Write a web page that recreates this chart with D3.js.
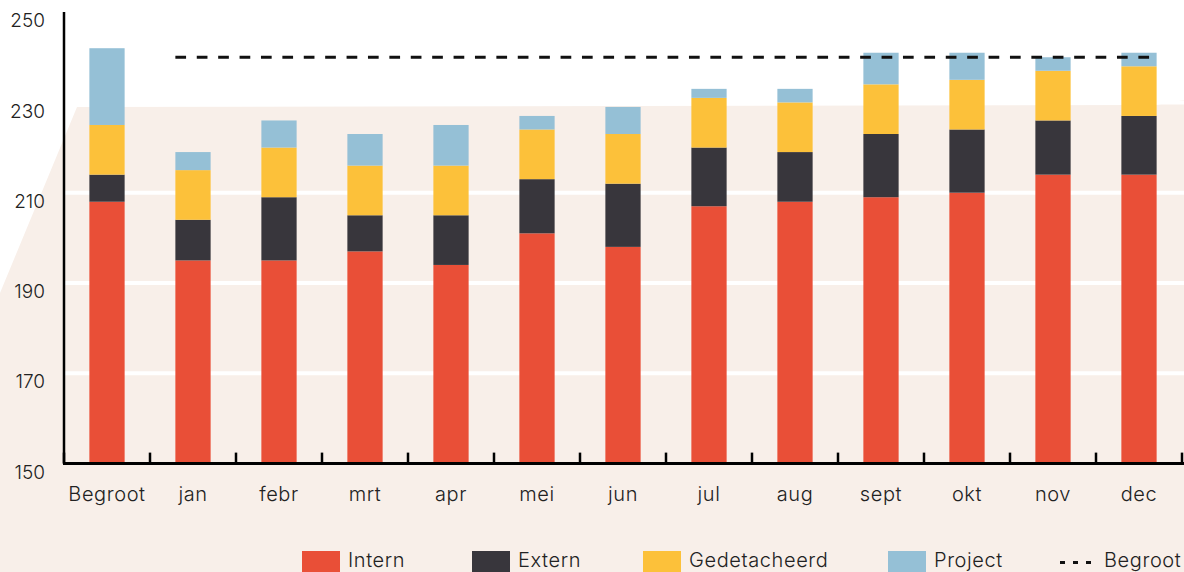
<!DOCTYPE html>
<html>
<head>
<meta charset="utf-8">
<script src="https://cdn.jsdelivr.net/npm/d3@7"></script>
<style>
  body { margin: 0; background: #ffffff; }
  svg { display: block; }
  text { font-family: Inter, "Liberation Sans", sans-serif; fill: #2b2b2b; font-weight: 400; }
  .lbl { font-size: 20px; letter-spacing: 0.6px; font-weight: 300; fill: #222; }
</style>
</head>
<body>
<div id="chart"></div>
<script>
// Categories (x-axis)
const categories = ["Begroot", "jan", "febr", "mrt", "apr", "mei", "jun", "jul", "aug", "sept", "okt", "nov", "dec"];

// Series values (FTE), stacked bottom to top
const intern       = [208, 195, 195, 197, 194, 201, 198, 207, 208, 209, 210, 214, 214];
const extern       = [  6,   9,  14,   8,  11,  12,  14,  13,  11,  14,  14,  12,  13];
const gedetacheerd = [ 11,  11,  11,  11,  11,  11,  11,  11,  11,  11,  11,  11,  11];
const project      = [ 17,   4,   6,   7,   9,   3,   6,   2,   3,   7,   6,   3,   3];

// Budget line value
const begroot = 240;

// Tick labels y-axis
const yTicks = [150, 170, 190, 210, 230, 250];

const seriesKeys = ["Intern", "Extern", "Gedetacheerd", "Project"];
const seriesColors = ["#E94F37", "#38363C", "#FCC13A", "#95C0D6"];

// Build rows for d3.stack
const rows = categories.map((c, i) => ({
  cat: c,
  Intern: intern[i],
  Extern: extern[i],
  Gedetacheerd: gedetacheerd[i],
  Project: project[i]
}));

const W = 1184, H = 572;
const svg = d3.select("#chart").append("svg")
  .attr("width", W)
  .attr("height", H);

// Beige backdrop shape
svg.append("polygon")
  .attr("points", [[0, 293], [77, 107], [1156, 105], [1184, 100], [1184, H], [0, H]].join(" "))
  .attr("fill", "#F8EFE9");

// Scales
const x = d3.scaleBand()
  .domain(categories)
  .range([64, 1182])
  .paddingInner(0.59)
  .paddingOuter(0.295);

const y = d3.scaleLinear()
  .domain([150, 250])
  .range([463.6, 12.1]);

const color = d3.scaleOrdinal().domain(seriesKeys).range(seriesColors);

// White gridlines
svg.append("g")
  .selectAll("line")
  .data(yTicks.slice(1))
  .join("line")
  .attr("x1", 64)
  .attr("x2", W)
  .attr("y1", d => y(d))
  .attr("y2", d => y(d))
  .attr("stroke", "#ffffff")
  .attr("stroke-width", 4);

// Stacked bars (axis starts at 150, so clip the bottom of the first layer)
const stacked = d3.stack().keys(seriesKeys)(rows);

svg.append("g")
  .selectAll("g")
  .data(stacked)
  .join("g")
  .attr("fill", d => color(d.key))
  .selectAll("rect")
  .data(d => d)
  .join("rect")
  .attr("x", d => x(d.data.cat))
  .attr("width", x.bandwidth())
  .attr("y", d => y(d[1]))
  .attr("height", d => y(Math.max(150, d[0])) - y(d[1]));

// Budget dashed line (jan .. dec)
svg.append("line")
  .attr("x1", x("jan"))
  .attr("x2", x("dec") + x.bandwidth())
  .attr("y1", y(begroot))
  .attr("y2", y(begroot))
  .attr("stroke", "#111")
  .attr("stroke-width", 3)
  .attr("stroke-dasharray", "10.7,10.7");

// Y axis (vertical line)
svg.append("line")
  .attr("x1", 64).attr("x2", 64)
  .attr("y1", y(250)).attr("y2", y(150))
  .attr("stroke", "#000")
  .attr("stroke-width", 2.5);

// Y tick labels
svg.append("g")
  .selectAll("text")
  .data(yTicks)
  .join("text")
  .attr("class", "lbl")
  .attr("x", 45)
  .attr("y", d => y(d) + 10)
  .attr("text-anchor", "end")
  .attr("dominant-baseline", "middle")
  .style("letter-spacing", "0px")
  .style("font-size", "19px")
  .text(d => d);

// X axis baseline + boundary ticks
const step = x.step();
const x0 = x.range()[0];
svg.append("line")
  .attr("x1", 63).attr("x2", W)
  .attr("y1", y(150)).attr("y2", y(150))
  .attr("stroke", "#000")
  .attr("stroke-width", 3);

svg.append("g")
  .selectAll("line")
  .data(d3.range(categories.length + 1))
  .join("line")
  .attr("x1", i => x0 + i * step)
  .attr("x2", i => x0 + i * step)
  .attr("y1", y(150))
  .attr("y2", y(150) - 11)
  .attr("stroke", "#000")
  .attr("stroke-width", 2.5);

// X labels
svg.append("g")
  .selectAll("text")
  .data(categories)
  .join("text")
  .attr("class", "lbl")
  .attr("x", d => x(d) + x.bandwidth() / 2)
  .attr("y", 496)
  .attr("text-anchor", "middle")
  .attr("dominant-baseline", "middle")
  .text(d => d);

// Legend
const legendX = [302, 472, 643, 888];
const legend = svg.append("g");
seriesKeys.forEach((k, i) => {
  legend.append("rect")
    .attr("x", legendX[i])
    .attr("y", 551)
    .attr("width", 38)
    .attr("height", 21)
    .attr("fill", color(k));
  legend.append("text")
    .attr("class", "lbl")
    .attr("x", legendX[i] + 46)
    .attr("y", 562)
    .attr("dominant-baseline", "middle")
    .text(k);
});

legend.append("line")
  .attr("x1", 1060).attr("x2", 1093)
  .attr("y1", 562.5).attr("y2", 562.5)
  .attr("stroke", "#111")
  .attr("stroke-width", 3)
  .attr("stroke-dasharray", "5,8");
legend.append("text")
  .attr("class", "lbl")
  .attr("x", 1104)
  .attr("y", 562)
  .attr("dominant-baseline", "middle")
  .text("Begroot");
</script>
</body>
</html>
